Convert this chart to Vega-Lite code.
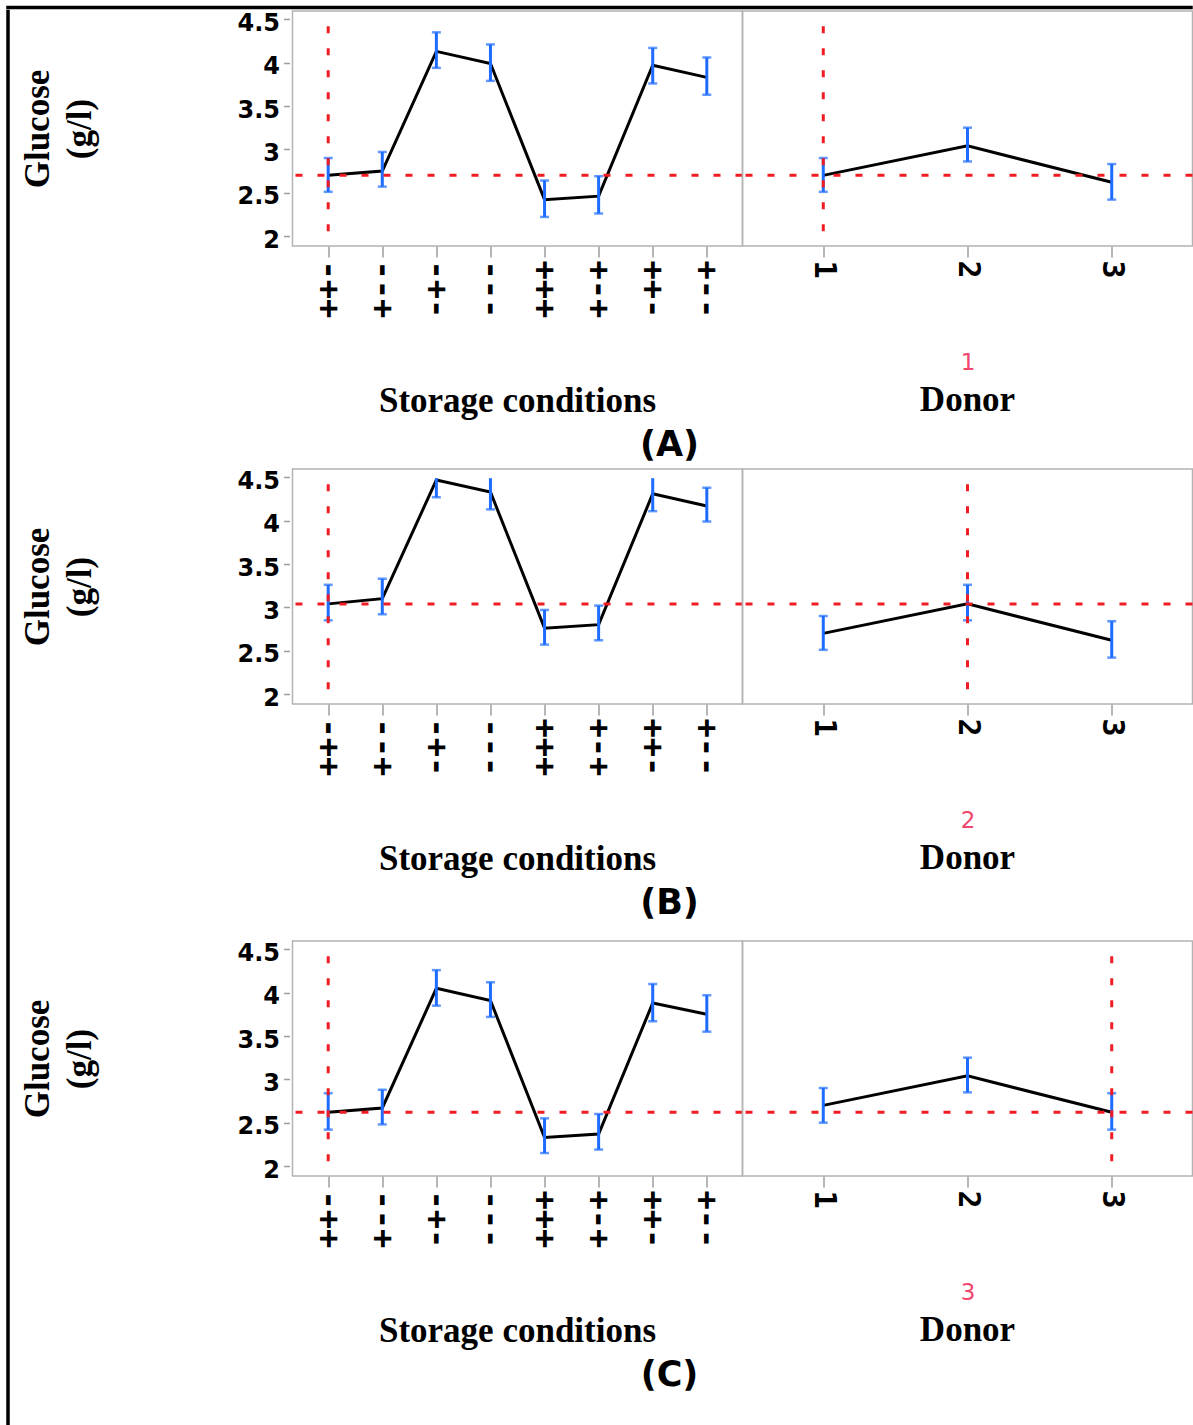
{
  "$schema": "https://vega.github.io/schema/vega-lite/v6.json",
  "background": "white",
  "padding": {"left": 5.5, "top": 5, "right": 0, "bottom": 0},
  "config": {
    "view": {"stroke": "#b3b3b3", "strokeWidth": 1.5},
    "axis": {"grid": false}
  },
  "datasets": {
    "storage": [
      {"panel": "A", "cond": "-++", "y": 2.70, "lo": 2.51, "hi": 2.90},
      {"panel": "A", "cond": "--+", "y": 2.75, "lo": 2.57, "hi": 2.97},
      {"panel": "A", "cond": "-+-", "y": 4.13, "lo": 3.94, "hi": 4.35},
      {"panel": "A", "cond": "---", "y": 3.99, "lo": 3.79, "hi": 4.21},
      {"panel": "A", "cond": "+++", "y": 2.42, "lo": 2.22, "hi": 2.64},
      {"panel": "A", "cond": "+-+", "y": 2.46, "lo": 2.26, "hi": 2.69},
      {"panel": "A", "cond": "++-", "y": 3.97, "lo": 3.76, "hi": 4.17},
      {"panel": "A", "cond": "+--", "y": 3.83, "lo": 3.63, "hi": 4.06},
      {"panel": "B", "cond": "-++", "y": 3.04, "lo": 2.85, "hi": 3.26},
      {"panel": "B", "cond": "--+", "y": 3.10, "lo": 2.92, "hi": 3.33},
      {"panel": "B", "cond": "-+-", "y": 4.47, "lo": 4.27, "hi": 4.49},
      {"panel": "B", "cond": "---", "y": 4.33, "lo": 4.13, "hi": 4.49},
      {"panel": "B", "cond": "+++", "y": 2.76, "lo": 2.57, "hi": 2.97},
      {"panel": "B", "cond": "+-+", "y": 2.80, "lo": 2.62, "hi": 3.02},
      {"panel": "B", "cond": "++-", "y": 4.31, "lo": 4.11, "hi": 4.49},
      {"panel": "B", "cond": "+--", "y": 4.17, "lo": 3.99, "hi": 4.38},
      {"panel": "C", "cond": "-++", "y": 2.62, "lo": 2.42, "hi": 2.84},
      {"panel": "C", "cond": "--+", "y": 2.67, "lo": 2.48, "hi": 2.88},
      {"panel": "C", "cond": "-+-", "y": 4.05, "lo": 3.85, "hi": 4.26},
      {"panel": "C", "cond": "---", "y": 3.91, "lo": 3.72, "hi": 4.12},
      {"panel": "C", "cond": "+++", "y": 2.33, "lo": 2.15, "hi": 2.55},
      {"panel": "C", "cond": "+-+", "y": 2.37, "lo": 2.19, "hi": 2.60},
      {"panel": "C", "cond": "++-", "y": 3.88, "lo": 3.67, "hi": 4.10},
      {"panel": "C", "cond": "+--", "y": 3.75, "lo": 3.55, "hi": 3.97}
    ],
    "donor": [
      {"panel": "A", "donor": "1", "y": 2.70, "lo": 2.51, "hi": 2.90},
      {"panel": "A", "donor": "2", "y": 3.04, "lo": 2.86, "hi": 3.25},
      {"panel": "A", "donor": "3", "y": 2.62, "lo": 2.42, "hi": 2.83},
      {"panel": "B", "donor": "1", "y": 2.70, "lo": 2.51, "hi": 2.90},
      {"panel": "B", "donor": "2", "y": 3.04, "lo": 2.85, "hi": 3.26},
      {"panel": "B", "donor": "3", "y": 2.62, "lo": 2.42, "hi": 2.84},
      {"panel": "C", "donor": "1", "y": 2.70, "lo": 2.50, "hi": 2.90},
      {"panel": "C", "donor": "2", "y": 3.04, "lo": 2.85, "hi": 3.25},
      {"panel": "C", "donor": "3", "y": 2.62, "lo": 2.42, "hi": 2.84}
    ],
    "cross": [
      {"panel": "A", "level": 2.70, "cond": "-++", "donor": "1"},
      {"panel": "B", "level": 3.04, "cond": "-++", "donor": "2"},
      {"panel": "C", "level": 2.62, "cond": "-++", "donor": "3"}
    ]
  },
  "vconcat": [
    {
      "width": 1184, "height": 1,
      "data": {"values": [{}]},
      "mark": {"type": "point", "opacity": 0, "size": 0},
      "encoding": {},
      "view": {"stroke": "black", "strokeWidth": 2.5}
    },
    {
      "hconcat": [
        {
          "width": 1, "height": 1416,
          "data": {"values": [{}]},
          "mark": {"type": "point", "opacity": 0, "size": 0},
          "encoding": {},
          "view": {"stroke": "black", "strokeWidth": 2.5}
        },
        {
          "vconcat": [
            {
              "hconcat": [
                {
                  "width": 450, "height": 235,
                  "title": {"text": "Storage conditions", "orient": "bottom", "anchor": "middle", "offset": 66, "font": "Liberation Serif", "fontWeight": "bold", "fontSize": 35, "color": "black"},
                  "layer": [
                    {
                      "data": {"name": "storage"},
                      "transform": [{"filter": "datum.panel == 'A'"}],
                      "mark": {"type": "line", "color": "black", "strokeWidth": 3},
                      "encoding": {
                        "x": {"field": "cond", "type": "nominal", "scale": {"type": "point", "domain": ["-++", "--+", "-+-", "---", "+++", "+-+", "++-", "+--"], "padding": 0.66},
                          "axis": {"title": null, "labelAngle": 90, "labelFont": "DejaVu Sans Mono", "labelFontWeight": "bold", "labelFontSize": 32, "labelColor": "black", "labelPadding": 3, "tickColor": "#9e9e9e", "tickSize": 11, "tickWidth": 1.5, "domain": false}},
                        "y": {"field": "y", "type": "quantitative", "scale": {"domain": [1.885, 4.596], "nice": false, "zero": false},
                          "axis": {"title": ["Glucose", "(g/l)"], "values": [2, 2.25, 2.5, 2.75, 3, 3.25, 3.5, 3.75, 4, 4.25, 4.5], "format": "~g", "labelExpr": "datum.value % 0.5 == 0 ? datum.label : ''", "domain": false, "offset": 3, "tickColor": "#9e9e9e", "tickSize": 6, "tickWidth": 1.5, "labelFont": "DejaVu Sans", "labelFontWeight": "bold", "labelFontSize": 24, "labelColor": "black", "labelPadding": 4, "labelOffset": 4, "labelOverlap": false, "titleFont": "Liberation Serif", "titleFontWeight": "bold", "titleFontSize": 35, "titleLineHeight": 42, "titleColor": "black", "titlePadding": 139}}
                      }
                    },
                    {
                      "data": {"name": "storage"},
                      "transform": [{"filter": "datum.panel == 'A'"}],
                      "mark": {"type": "rule", "color": "#1e6cff", "strokeWidth": 3},
                      "encoding": {
                        "x": {"field": "cond", "type": "nominal"},
                        "y": {"field": "lo", "type": "quantitative"},
                        "y2": {"field": "hi"}
                      }
                    },
                    {
                      "data": {"name": "storage"},
                      "transform": [{"filter": "datum.panel == 'A'"}],
                      "mark": {"type": "tick", "color": "#1e6cff", "size": 9, "thickness": 2.5, "orient": "horizontal"},
                      "encoding": {
                        "x": {"field": "cond", "type": "nominal"},
                        "y": {"field": "lo", "type": "quantitative"}
                      }
                    },
                    {
                      "data": {"name": "storage"},
                      "transform": [{"filter": "datum.panel == 'A' && datum.hi < 4.48"}],
                      "mark": {"type": "tick", "color": "#1e6cff", "size": 9, "thickness": 2.5, "orient": "horizontal"},
                      "encoding": {
                        "x": {"field": "cond", "type": "nominal"},
                        "y": {"field": "hi", "type": "quantitative"}
                      }
                    },
                    {
                      "data": {"name": "cross"},
                      "transform": [{"filter": "datum.panel == 'A'"}],
                      "mark": {"type": "rule", "color": "#f01c24", "strokeWidth": 3, "strokeDash": [7, 15]},
                      "encoding": {
                        "y": {"field": "level", "type": "quantitative"}
                      }
                    },
                    {
                      "data": {"name": "cross"},
                      "transform": [{"filter": "datum.panel == 'A'"}],
                      "mark": {"type": "rule", "color": "#f01c24", "strokeWidth": 3, "strokeDash": [7, 15]},
                      "encoding": {
                        "x": {"field": "cond", "type": "nominal"},
                        "y": {"datum": 4.42, "type": "quantitative"},
                        "y2": {"datum": 1.99}
                      }
                    }
                  ]
                },
                {
                  "width": 450, "height": 235,
                  "title": {"text": "Donor", "orient": "bottom", "anchor": "middle", "offset": 9, "font": "Liberation Serif", "fontWeight": "bold", "fontSize": 35, "color": "black"},
                  "layer": [
                    {
                      "data": {"name": "donor"},
                      "transform": [{"filter": "datum.panel == 'A'"}],
                      "mark": {"type": "line", "color": "black", "strokeWidth": 3},
                      "encoding": {
                        "x": {"field": "donor", "type": "nominal", "scale": {"type": "point", "domain": ["1", "2", "3"], "padding": 0.56},
                          "axis": {"title": "1", "titleColor": "#f0476e", "titleFont": "DejaVu Sans", "titleFontWeight": "normal", "titleFontSize": 23, "titlePadding": 73, "labelAngle": 90, "labelFont": "DejaVu Sans Mono", "labelFontWeight": "bold", "labelFontSize": 30, "labelColor": "black", "labelPadding": 3, "tickColor": "#9e9e9e", "tickSize": 11, "tickWidth": 1.5, "domain": false}},
                        "y": {"field": "y", "type": "quantitative", "scale": {"domain": [1.885, 4.596], "nice": false, "zero": false}, "axis": null}
                      }
                    },
                    {
                      "data": {"name": "donor"},
                      "transform": [{"filter": "datum.panel == 'A'"}],
                      "mark": {"type": "rule", "color": "#1e6cff", "strokeWidth": 3},
                      "encoding": {
                        "x": {"field": "donor", "type": "nominal"},
                        "y": {"field": "lo", "type": "quantitative", "axis": null},
                        "y2": {"field": "hi"}
                      }
                    },
                    {
                      "data": {"name": "donor"},
                      "transform": [{"filter": "datum.panel == 'A'"}],
                      "mark": {"type": "tick", "color": "#1e6cff", "size": 9, "thickness": 2.5, "orient": "horizontal"},
                      "encoding": {
                        "x": {"field": "donor", "type": "nominal"},
                        "y": {"field": "lo", "type": "quantitative", "axis": null}
                      }
                    },
                    {
                      "data": {"name": "donor"},
                      "transform": [{"filter": "datum.panel == 'A'"}],
                      "mark": {"type": "tick", "color": "#1e6cff", "size": 9, "thickness": 2.5, "orient": "horizontal"},
                      "encoding": {
                        "x": {"field": "donor", "type": "nominal"},
                        "y": {"field": "hi", "type": "quantitative", "axis": null}
                      }
                    },
                    {
                      "data": {"name": "cross"},
                      "transform": [{"filter": "datum.panel == 'A'"}],
                      "mark": {"type": "rule", "color": "#f01c24", "strokeWidth": 3, "strokeDash": [7, 15]},
                      "encoding": {
                        "y": {"field": "level", "type": "quantitative", "axis": null}
                      }
                    },
                    {
                      "data": {"name": "cross"},
                      "transform": [{"filter": "datum.panel == 'A'"}],
                      "mark": {"type": "rule", "color": "#f01c24", "strokeWidth": 3, "strokeDash": [7, 15]},
                      "encoding": {
                        "x": {"field": "donor", "type": "nominal"},
                        "y": {"datum": 4.42, "type": "quantitative", "axis": null},
                        "y2": {"datum": 1.99}
                      }
                    }
                  ]
                }
              ],
              "spacing": 0,
              "bounds": "flush",
              "title": {"text": "(A)", "orient": "bottom", "anchor": "middle", "offset": 8, "dx": 62, "font": "DejaVu Sans", "fontWeight": "bold", "fontSize": 35, "color": "black"}
            },
            {
              "hconcat": [
                {
                  "width": 450, "height": 235,
                  "title": {"text": "Storage conditions", "orient": "bottom", "anchor": "middle", "offset": 66, "font": "Liberation Serif", "fontWeight": "bold", "fontSize": 35, "color": "black"},
                  "layer": [
                    {
                      "data": {"name": "storage"},
                      "transform": [{"filter": "datum.panel == 'B'"}],
                      "mark": {"type": "line", "color": "black", "strokeWidth": 3},
                      "encoding": {
                        "x": {"field": "cond", "type": "nominal", "scale": {"type": "point", "domain": ["-++", "--+", "-+-", "---", "+++", "+-+", "++-", "+--"], "padding": 0.66},
                          "axis": {"title": null, "labelAngle": 90, "labelFont": "DejaVu Sans Mono", "labelFontWeight": "bold", "labelFontSize": 32, "labelColor": "black", "labelPadding": 3, "tickColor": "#9e9e9e", "tickSize": 11, "tickWidth": 1.5, "domain": false}},
                        "y": {"field": "y", "type": "quantitative", "scale": {"domain": [1.885, 4.596], "nice": false, "zero": false},
                          "axis": {"title": ["Glucose", "(g/l)"], "values": [2, 2.25, 2.5, 2.75, 3, 3.25, 3.5, 3.75, 4, 4.25, 4.5], "format": "~g", "labelExpr": "datum.value % 0.5 == 0 ? datum.label : ''", "domain": false, "offset": 3, "tickColor": "#9e9e9e", "tickSize": 6, "tickWidth": 1.5, "labelFont": "DejaVu Sans", "labelFontWeight": "bold", "labelFontSize": 24, "labelColor": "black", "labelPadding": 4, "labelOffset": 4, "labelOverlap": false, "titleFont": "Liberation Serif", "titleFontWeight": "bold", "titleFontSize": 35, "titleLineHeight": 42, "titleColor": "black", "titlePadding": 139}}
                      }
                    },
                    {
                      "data": {"name": "storage"},
                      "transform": [{"filter": "datum.panel == 'B'"}],
                      "mark": {"type": "rule", "color": "#1e6cff", "strokeWidth": 3},
                      "encoding": {
                        "x": {"field": "cond", "type": "nominal"},
                        "y": {"field": "lo", "type": "quantitative"},
                        "y2": {"field": "hi"}
                      }
                    },
                    {
                      "data": {"name": "storage"},
                      "transform": [{"filter": "datum.panel == 'B'"}],
                      "mark": {"type": "tick", "color": "#1e6cff", "size": 9, "thickness": 2.5, "orient": "horizontal"},
                      "encoding": {
                        "x": {"field": "cond", "type": "nominal"},
                        "y": {"field": "lo", "type": "quantitative"}
                      }
                    },
                    {
                      "data": {"name": "storage"},
                      "transform": [{"filter": "datum.panel == 'B' && datum.hi < 4.48"}],
                      "mark": {"type": "tick", "color": "#1e6cff", "size": 9, "thickness": 2.5, "orient": "horizontal"},
                      "encoding": {
                        "x": {"field": "cond", "type": "nominal"},
                        "y": {"field": "hi", "type": "quantitative"}
                      }
                    },
                    {
                      "data": {"name": "cross"},
                      "transform": [{"filter": "datum.panel == 'B'"}],
                      "mark": {"type": "rule", "color": "#f01c24", "strokeWidth": 3, "strokeDash": [7, 15]},
                      "encoding": {
                        "y": {"field": "level", "type": "quantitative"}
                      }
                    },
                    {
                      "data": {"name": "cross"},
                      "transform": [{"filter": "datum.panel == 'B'"}],
                      "mark": {"type": "rule", "color": "#f01c24", "strokeWidth": 3, "strokeDash": [7, 15]},
                      "encoding": {
                        "x": {"field": "cond", "type": "nominal"},
                        "y": {"datum": 4.42, "type": "quantitative"},
                        "y2": {"datum": 1.99}
                      }
                    }
                  ]
                },
                {
                  "width": 450, "height": 235,
                  "title": {"text": "Donor", "orient": "bottom", "anchor": "middle", "offset": 9, "font": "Liberation Serif", "fontWeight": "bold", "fontSize": 35, "color": "black"},
                  "layer": [
                    {
                      "data": {"name": "donor"},
                      "transform": [{"filter": "datum.panel == 'B'"}],
                      "mark": {"type": "line", "color": "black", "strokeWidth": 3},
                      "encoding": {
                        "x": {"field": "donor", "type": "nominal", "scale": {"type": "point", "domain": ["1", "2", "3"], "padding": 0.56},
                          "axis": {"title": "2", "titleColor": "#f0476e", "titleFont": "DejaVu Sans", "titleFontWeight": "normal", "titleFontSize": 23, "titlePadding": 73, "labelAngle": 90, "labelFont": "DejaVu Sans Mono", "labelFontWeight": "bold", "labelFontSize": 30, "labelColor": "black", "labelPadding": 3, "tickColor": "#9e9e9e", "tickSize": 11, "tickWidth": 1.5, "domain": false}},
                        "y": {"field": "y", "type": "quantitative", "scale": {"domain": [1.885, 4.596], "nice": false, "zero": false}, "axis": null}
                      }
                    },
                    {
                      "data": {"name": "donor"},
                      "transform": [{"filter": "datum.panel == 'B'"}],
                      "mark": {"type": "rule", "color": "#1e6cff", "strokeWidth": 3},
                      "encoding": {
                        "x": {"field": "donor", "type": "nominal"},
                        "y": {"field": "lo", "type": "quantitative", "axis": null},
                        "y2": {"field": "hi"}
                      }
                    },
                    {
                      "data": {"name": "donor"},
                      "transform": [{"filter": "datum.panel == 'B'"}],
                      "mark": {"type": "tick", "color": "#1e6cff", "size": 9, "thickness": 2.5, "orient": "horizontal"},
                      "encoding": {
                        "x": {"field": "donor", "type": "nominal"},
                        "y": {"field": "lo", "type": "quantitative", "axis": null}
                      }
                    },
                    {
                      "data": {"name": "donor"},
                      "transform": [{"filter": "datum.panel == 'B'"}],
                      "mark": {"type": "tick", "color": "#1e6cff", "size": 9, "thickness": 2.5, "orient": "horizontal"},
                      "encoding": {
                        "x": {"field": "donor", "type": "nominal"},
                        "y": {"field": "hi", "type": "quantitative", "axis": null}
                      }
                    },
                    {
                      "data": {"name": "cross"},
                      "transform": [{"filter": "datum.panel == 'B'"}],
                      "mark": {"type": "rule", "color": "#f01c24", "strokeWidth": 3, "strokeDash": [7, 15]},
                      "encoding": {
                        "y": {"field": "level", "type": "quantitative", "axis": null}
                      }
                    },
                    {
                      "data": {"name": "cross"},
                      "transform": [{"filter": "datum.panel == 'B'"}],
                      "mark": {"type": "rule", "color": "#f01c24", "strokeWidth": 3, "strokeDash": [7, 15]},
                      "encoding": {
                        "x": {"field": "donor", "type": "nominal"},
                        "y": {"datum": 4.42, "type": "quantitative", "axis": null},
                        "y2": {"datum": 1.99}
                      }
                    }
                  ]
                }
              ],
              "spacing": 0,
              "bounds": "flush",
              "title": {"text": "(B)", "subtitle": " ", "subtitleFontSize": 10, "subtitlePadding": 4, "orient": "bottom", "anchor": "middle", "offset": 8, "dx": 62, "font": "DejaVu Sans", "fontWeight": "bold", "fontSize": 35, "color": "black"}
            },
            {
              "hconcat": [
                {
                  "width": 450, "height": 235,
                  "title": {"text": "Storage conditions", "orient": "bottom", "anchor": "middle", "offset": 66, "font": "Liberation Serif", "fontWeight": "bold", "fontSize": 35, "color": "black"},
                  "layer": [
                    {
                      "data": {"name": "storage"},
                      "transform": [{"filter": "datum.panel == 'C'"}],
                      "mark": {"type": "line", "color": "black", "strokeWidth": 3},
                      "encoding": {
                        "x": {"field": "cond", "type": "nominal", "scale": {"type": "point", "domain": ["-++", "--+", "-+-", "---", "+++", "+-+", "++-", "+--"], "padding": 0.66},
                          "axis": {"title": null, "labelAngle": 90, "labelFont": "DejaVu Sans Mono", "labelFontWeight": "bold", "labelFontSize": 32, "labelColor": "black", "labelPadding": 3, "tickColor": "#9e9e9e", "tickSize": 11, "tickWidth": 1.5, "domain": false}},
                        "y": {"field": "y", "type": "quantitative", "scale": {"domain": [1.885, 4.596], "nice": false, "zero": false},
                          "axis": {"title": ["Glucose", "(g/l)"], "values": [2, 2.25, 2.5, 2.75, 3, 3.25, 3.5, 3.75, 4, 4.25, 4.5], "format": "~g", "labelExpr": "datum.value % 0.5 == 0 ? datum.label : ''", "domain": false, "offset": 3, "tickColor": "#9e9e9e", "tickSize": 6, "tickWidth": 1.5, "labelFont": "DejaVu Sans", "labelFontWeight": "bold", "labelFontSize": 24, "labelColor": "black", "labelPadding": 4, "labelOffset": 4, "labelOverlap": false, "titleFont": "Liberation Serif", "titleFontWeight": "bold", "titleFontSize": 35, "titleLineHeight": 42, "titleColor": "black", "titlePadding": 139}}
                      }
                    },
                    {
                      "data": {"name": "storage"},
                      "transform": [{"filter": "datum.panel == 'C'"}],
                      "mark": {"type": "rule", "color": "#1e6cff", "strokeWidth": 3},
                      "encoding": {
                        "x": {"field": "cond", "type": "nominal"},
                        "y": {"field": "lo", "type": "quantitative"},
                        "y2": {"field": "hi"}
                      }
                    },
                    {
                      "data": {"name": "storage"},
                      "transform": [{"filter": "datum.panel == 'C'"}],
                      "mark": {"type": "tick", "color": "#1e6cff", "size": 9, "thickness": 2.5, "orient": "horizontal"},
                      "encoding": {
                        "x": {"field": "cond", "type": "nominal"},
                        "y": {"field": "lo", "type": "quantitative"}
                      }
                    },
                    {
                      "data": {"name": "storage"},
                      "transform": [{"filter": "datum.panel == 'C' && datum.hi < 4.48"}],
                      "mark": {"type": "tick", "color": "#1e6cff", "size": 9, "thickness": 2.5, "orient": "horizontal"},
                      "encoding": {
                        "x": {"field": "cond", "type": "nominal"},
                        "y": {"field": "hi", "type": "quantitative"}
                      }
                    },
                    {
                      "data": {"name": "cross"},
                      "transform": [{"filter": "datum.panel == 'C'"}],
                      "mark": {"type": "rule", "color": "#f01c24", "strokeWidth": 3, "strokeDash": [7, 15]},
                      "encoding": {
                        "y": {"field": "level", "type": "quantitative"}
                      }
                    },
                    {
                      "data": {"name": "cross"},
                      "transform": [{"filter": "datum.panel == 'C'"}],
                      "mark": {"type": "rule", "color": "#f01c24", "strokeWidth": 3, "strokeDash": [7, 15]},
                      "encoding": {
                        "x": {"field": "cond", "type": "nominal"},
                        "y": {"datum": 4.42, "type": "quantitative"},
                        "y2": {"datum": 1.99}
                      }
                    }
                  ]
                },
                {
                  "width": 450, "height": 235,
                  "title": {"text": "Donor", "orient": "bottom", "anchor": "middle", "offset": 9, "font": "Liberation Serif", "fontWeight": "bold", "fontSize": 35, "color": "black"},
                  "layer": [
                    {
                      "data": {"name": "donor"},
                      "transform": [{"filter": "datum.panel == 'C'"}],
                      "mark": {"type": "line", "color": "black", "strokeWidth": 3},
                      "encoding": {
                        "x": {"field": "donor", "type": "nominal", "scale": {"type": "point", "domain": ["1", "2", "3"], "padding": 0.56},
                          "axis": {"title": "3", "titleColor": "#f0476e", "titleFont": "DejaVu Sans", "titleFontWeight": "normal", "titleFontSize": 23, "titlePadding": 73, "labelAngle": 90, "labelFont": "DejaVu Sans Mono", "labelFontWeight": "bold", "labelFontSize": 30, "labelColor": "black", "labelPadding": 3, "tickColor": "#9e9e9e", "tickSize": 11, "tickWidth": 1.5, "domain": false}},
                        "y": {"field": "y", "type": "quantitative", "scale": {"domain": [1.885, 4.596], "nice": false, "zero": false}, "axis": null}
                      }
                    },
                    {
                      "data": {"name": "donor"},
                      "transform": [{"filter": "datum.panel == 'C'"}],
                      "mark": {"type": "rule", "color": "#1e6cff", "strokeWidth": 3},
                      "encoding": {
                        "x": {"field": "donor", "type": "nominal"},
                        "y": {"field": "lo", "type": "quantitative", "axis": null},
                        "y2": {"field": "hi"}
                      }
                    },
                    {
                      "data": {"name": "donor"},
                      "transform": [{"filter": "datum.panel == 'C'"}],
                      "mark": {"type": "tick", "color": "#1e6cff", "size": 9, "thickness": 2.5, "orient": "horizontal"},
                      "encoding": {
                        "x": {"field": "donor", "type": "nominal"},
                        "y": {"field": "lo", "type": "quantitative", "axis": null}
                      }
                    },
                    {
                      "data": {"name": "donor"},
                      "transform": [{"filter": "datum.panel == 'C'"}],
                      "mark": {"type": "tick", "color": "#1e6cff", "size": 9, "thickness": 2.5, "orient": "horizontal"},
                      "encoding": {
                        "x": {"field": "donor", "type": "nominal"},
                        "y": {"field": "hi", "type": "quantitative", "axis": null}
                      }
                    },
                    {
                      "data": {"name": "cross"},
                      "transform": [{"filter": "datum.panel == 'C'"}],
                      "mark": {"type": "rule", "color": "#f01c24", "strokeWidth": 3, "strokeDash": [7, 15]},
                      "encoding": {
                        "y": {"field": "level", "type": "quantitative", "axis": null}
                      }
                    },
                    {
                      "data": {"name": "cross"},
                      "transform": [{"filter": "datum.panel == 'C'"}],
                      "mark": {"type": "rule", "color": "#f01c24", "strokeWidth": 3, "strokeDash": [7, 15]},
                      "encoding": {
                        "x": {"field": "donor", "type": "nominal"},
                        "y": {"datum": 4.42, "type": "quantitative", "axis": null},
                        "y2": {"datum": 1.99}
                      }
                    }
                  ]
                }
              ],
              "spacing": 0,
              "bounds": "flush",
              "title": {"text": "(C)", "orient": "bottom", "anchor": "middle", "offset": 8, "dx": 62, "font": "DejaVu Sans", "fontWeight": "bold", "fontSize": 35, "color": "black"}
            }
          ],
          "spacing": 5
        }
      ],
      "spacing": 9
    }
  ],
  "spacing": -1
}
